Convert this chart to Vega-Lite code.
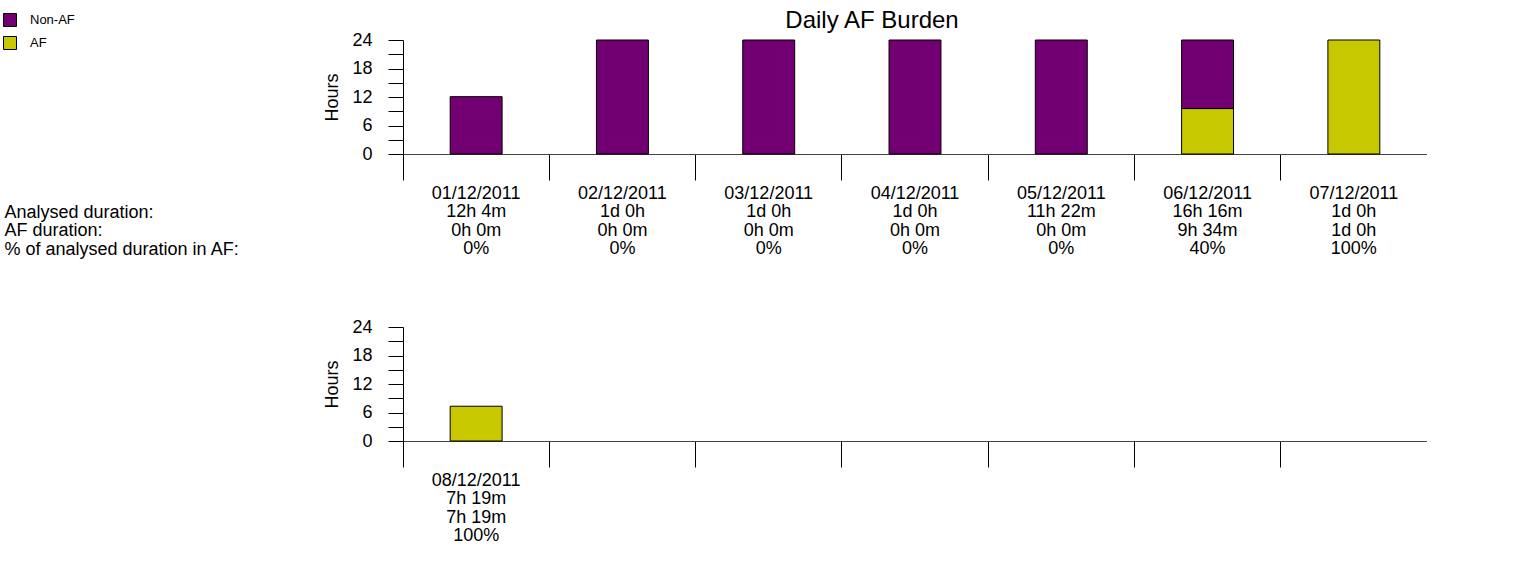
{
  "$schema": "https://vega.github.io/schema/vega-lite/v6.json",
  "padding": {"left": 3, "top": 9, "right": 0, "bottom": 0},
  "background": "white",
  "datasets": {
    "bars": [
      {"panel": "top", "day": "01/12/2011|12h 4m|0h 0m|0%", "type": "Non-AF", "hours": 12.07},
      {"panel": "top", "day": "02/12/2011|1d 0h|0h 0m|0%", "type": "Non-AF", "hours": 24},
      {"panel": "top", "day": "03/12/2011|1d 0h|0h 0m|0%", "type": "Non-AF", "hours": 24},
      {"panel": "top", "day": "04/12/2011|1d 0h|0h 0m|0%", "type": "Non-AF", "hours": 24},
      {"panel": "top", "day": "05/12/2011|11h 22m|0h 0m|0%", "type": "Non-AF", "hours": 24},
      {"panel": "top", "day": "06/12/2011|16h 16m|9h 34m|40%", "type": "AF", "hours": 9.57},
      {"panel": "top", "day": "06/12/2011|16h 16m|9h 34m|40%", "type": "Non-AF", "hours": 14.43},
      {"panel": "top", "day": "07/12/2011|1d 0h|1d 0h|100%", "type": "AF", "hours": 24},
      {"panel": "bottom", "day": "08/12/2011|7h 19m|7h 19m|100%", "type": "AF", "hours": 7.32}
    ]
  },
  "config": {
    "font": "Liberation Sans",
    "view": {"stroke": null},
    "axis": {
      "labelFont": "Liberation Sans",
      "titleFont": "Liberation Sans",
      "labelColor": "black",
      "titleColor": "black",
      "grid": false,
      "domainColor": "black",
      "tickColor": "black"
    },
    "legend": {
      "labelFont": "Liberation Sans",
      "labelFontSize": 13,
      "labelColor": "black",
      "symbolType": "square",
      "symbolSize": 169,
      "symbolStrokeColor": "black",
      "symbolStrokeWidth": 1,
      "symbolOpacity": 1,
      "rowPadding": 5,
      "labelOffset": 13,
      "padding": 0
    }
  },
  "spacing": 173,
  "bounds": "flush",
  "resolve": {"scale": {"x": "independent"}},
  "vconcat": [
    {
      "width": 1024,
      "height": 114,
      "title": {
        "text": "Daily AF Burden",
        "font": "Liberation Sans",
        "fontSize": 24,
        "fontWeight": "normal",
        "color": "black",
        "frame": "group",
        "anchor": "middle",
        "dx": -43,
        "baseline": "alphabetic",
        "offset": -21
      },
      "data": {"name": "bars"},
      "transform": [{"filter": "datum.panel == 'top'"}],
      "mark": {"type": "bar", "stroke": "black", "strokeWidth": 1, "width": {"band": 0.355}},
      "encoding": {
        "x": {
          "field": "day",
          "type": "nominal",
          "scale": {
            "domain": [
              "01/12/2011|12h 4m|0h 0m|0%",
              "02/12/2011|1d 0h|0h 0m|0%",
              "03/12/2011|1d 0h|0h 0m|0%",
              "04/12/2011|1d 0h|0h 0m|0%",
              "05/12/2011|11h 22m|0h 0m|0%",
              "06/12/2011|16h 16m|9h 34m|40%",
              "07/12/2011|1d 0h|1d 0h|100%"
            ],
            "paddingInner": 0,
            "paddingOuter": 0
          },
          "axis": {
            "orient": "bottom",
            "title": ["Analysed duration:", "AF duration:", "% of analysed duration in AF:"],
            "titleX": -399,
            "titleY": 49,
            "titleAlign": "left",
            "titleBaseline": "top",
            "titleAngle": 0,
            "titleFontSize": 18,
            "titleFontWeight": "normal",
            "titleLineHeight": 18.5,
            "labelExpr": "indexof(datum.value, '|') >= 0 ? split(datum.value, '|') : ''",
            "labelAngle": 0,
            "labelFontSize": 18,
            "labelLineHeight": 18.5,
            "labelBaseline": "top",
            "labelPadding": 4,
            "labelLimit": 0,
            "labelOverlap": false,
            "tickSize": 26,
            "bandPosition": 0,
            "domainColor": "#444"
          }
        },
        "y": {
          "field": "hours",
          "type": "quantitative",
          "stack": "zero",
          "scale": {"domain": [0, 24], "nice": false},
          "axis": {
            "values": [0, 3, 6, 9, 12, 15, 18, 21, 24],
            "labelExpr": "datum.value % 6 == 0 ? datum.label : ''",
            "labelOverlap": false,
            "tickSize": 15,
            "labelPadding": 16,
            "labelFontSize": 18,
            "title": "Hours",
            "titleFontSize": 18,
            "titleFontWeight": "normal",
            "titlePadding": 10
          }
        },
        "color": {
          "field": "type",
          "type": "nominal",
          "scale": {"domain": ["Non-AF", "AF"], "range": ["#730073", "#C8C800"]},
          "legend": {"orient": "none", "legendX": -400, "legendY": -27, "title": null}
        },
        "order": {"field": "type", "type": "nominal", "sort": "ascending"}
      }
    },
    {
      "width": 1024,
      "height": 114,
      "data": {"name": "bars"},
      "transform": [{"filter": "datum.panel == 'bottom'"}],
      "mark": {"type": "bar", "stroke": "black", "strokeWidth": 1, "width": {"band": 0.355}},
      "encoding": {
        "x": {
          "field": "day",
          "type": "nominal",
          "scale": {
            "domain": [
              "08/12/2011|7h 19m|7h 19m|100%",
              "slot2", "slot3", "slot4", "slot5", "slot6", "slot7"
            ],
            "paddingInner": 0,
            "paddingOuter": 0
          },
          "axis": {
            "orient": "bottom",
            "title": null,
            "labelExpr": "indexof(datum.value, '|') >= 0 ? split(datum.value, '|') : ''",
            "labelAngle": 0,
            "labelFontSize": 18,
            "labelLineHeight": 18.5,
            "labelBaseline": "top",
            "labelPadding": 4,
            "labelLimit": 0,
            "labelOverlap": false,
            "tickSize": 26,
            "bandPosition": 0,
            "domainColor": "#444"
          }
        },
        "y": {
          "field": "hours",
          "type": "quantitative",
          "stack": "zero",
          "scale": {"domain": [0, 24], "nice": false},
          "axis": {
            "values": [0, 3, 6, 9, 12, 15, 18, 21, 24],
            "labelExpr": "datum.value % 6 == 0 ? datum.label : ''",
            "labelOverlap": false,
            "tickSize": 15,
            "labelPadding": 16,
            "labelFontSize": 18,
            "title": "Hours",
            "titleFontSize": 18,
            "titleFontWeight": "normal",
            "titlePadding": 10
          }
        },
        "color": {
          "field": "type",
          "type": "nominal",
          "scale": {"domain": ["Non-AF", "AF"], "range": ["#730073", "#C8C800"]},
          "legend": {"orient": "none", "legendX": -400, "legendY": -27, "title": null}
        },
        "order": {"field": "type", "type": "nominal", "sort": "ascending"}
      }
    }
  ]
}
